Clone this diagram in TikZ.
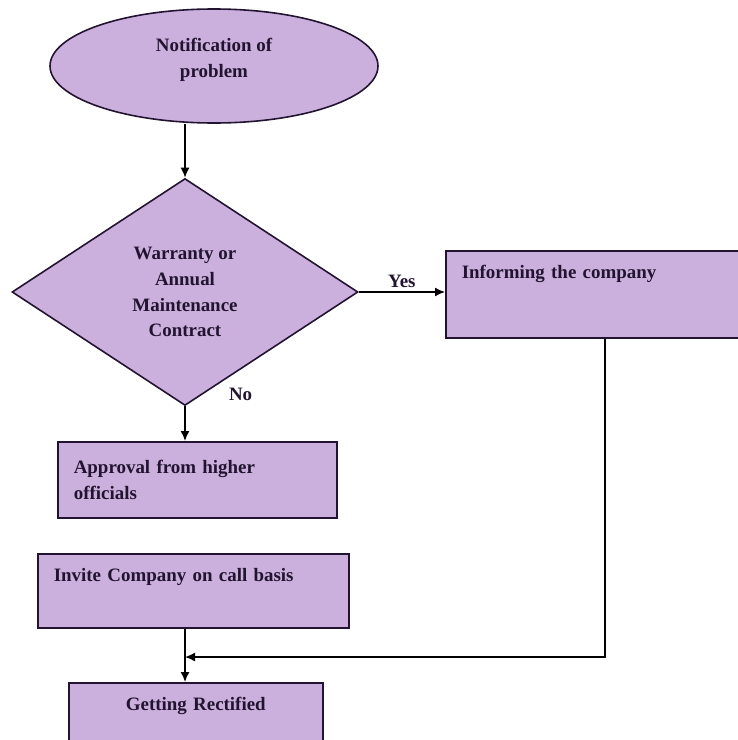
\documentclass[tikz,border=0pt]{standalone}
\usepackage{fontspec}
\setmainfont{Liberation Serif}
\usepackage{tikz}
\usetikzlibrary{arrows,arrows.meta,shapes}
\definecolor{lilac}{RGB}{203,176,221}
\definecolor{ink}{RGB}{34,20,48}

\begin{document}
\begin{tikzpicture}[
  every node/.style={font=\fontsize{19}{26}\selectfont\bfseries,text=ink},
  shapefill/.style={draw=ink,fill=lilac,line width=1.6pt},
  stepbox/.style={shapefill,rectangle,anchor=north west,inner xsep=16bp,inner ysep=15bp,text height=13bp},
  flow/.style={-{Latex[length=10bp,width=9bp]},line width=1.5pt,draw=black}
]
\useasboundingbox (0bp,0bp) rectangle (738bp,-740bp);

\node (notif) at (214bp,-66bp)[shapefill,ellipse,minimum width=328bp,minimum height=114bp,inner sep=0pt,text depth=16bp,align=center] {Notification of\\problem};
\node (decide) at (185bp,-292bp)[shapefill,diamond,minimum width=346bp,minimum height=227bp,inner sep=0pt,align=center] {Warranty or\\Annual\\Maintenance\\Contract};
\node (inform) at (445bp,-250bp)[stepbox,text width=273bp,text depth=44bp,align=left] {Informing the company};
\node (approve) at (57bp,-441bp)[stepbox,text width=247bp,minimum height=76bp,align=left] {Approval from higher\\officials};
\node (invite) at (37bp,-553bp)[stepbox,text width=279bp,text depth=31bp,align=left] {Invite Company on call basis};
\node (get) at (68bp,-682bp)[stepbox,text width=222bp,text depth=27bp,align=center] {Getting Rectified};

\coordinate (turn) at (605bp,-657bp);
\coordinate (merge) at (decide.south |- turn);

\draw [flow] (notif.south -| decide.north) -- (decide.north);
\draw [flow] (decide.east) -- node[above] {Yes} (decide.east -| inform.west);
\draw [flow] (decide.south) -- node[at start,anchor=south west,xshift=40bp,yshift=2bp] {No} (decide.south |- approve.north);
\draw [flow] (decide.south |- invite.south) -- (decide.south |- get.north);
\draw [flow] (inform.south -| turn) -- (turn) -- (merge);
\end{tikzpicture}
\end{document}
